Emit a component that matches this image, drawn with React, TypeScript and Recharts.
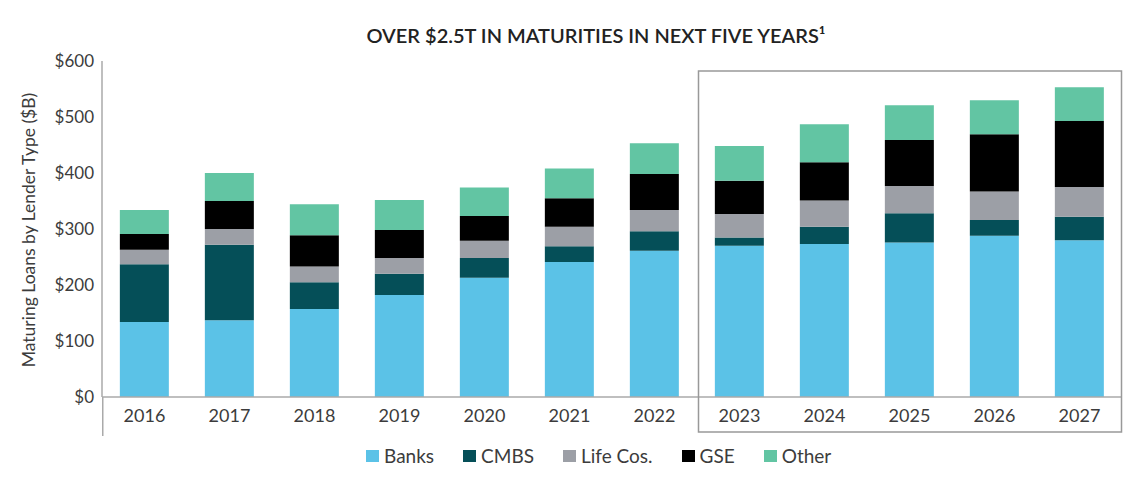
import * as React from "react";
import { BarChart, Bar, XAxis, YAxis } from "recharts";

// 만기 도래 대출 (단위: $B), 그림에서 읽은 값
const years = ["2016", "2017", "2018", "2019", "2020", "2021", "2022", "2023", "2024", "2025", "2026", "2027"];
const banks = [134, 137, 157, 182, 213, 241, 261, 270, 273, 276, 288, 280];
const cmbs = [103, 135, 48, 38, 35, 28, 35, 15, 31, 52, 28, 42];
const lifeCos = [26, 28, 28, 28, 31, 35, 38, 42, 47, 49, 51, 53];
const gse = [28, 50, 56, 50, 44, 51, 64, 59, 68, 82, 102, 118];
const other = [43, 50, 55, 54, 51, 53, 55, 62, 68, 62, 61, 60];
const yTicks = [0, 100, 200, 300, 400, 500, 600];

const series = [
  { key: "banks", name: "Banks", color: "#5BC2E7" },
  { key: "cmbs", name: "CMBS", color: "#054F58" },
  { key: "lifeCos", name: "Life Cos.", color: "#9C9FA6" },
  { key: "gse", name: "GSE", color: "#000000" },
  { key: "other", name: "Other", color: "#62C5A3" },
];

const data = years.map((year, i) => ({
  year,
  banks: banks[i],
  cmbs: cmbs[i],
  lifeCos: lifeCos[i],
  gse: gse[i],
  other: other[i],
}));

const FONT = "Lato, 'Open Sans', sans-serif";
const TEXT = "#3c3c3c";

// 범례는 플롯 높이에 영향을 주지 않도록 차트 밖에 따로 그립니다.
function LegendRow() {
  return (
    <div
      style={{
        position: "absolute",
        left: 366,
        top: 444,
        display: "flex",
        fontFamily: FONT,
        fontSize: 19,
        lineHeight: "24px",
        color: TEXT,
        whiteSpace: "nowrap",
      }}
    >
      {series.map((s) => (
        <div key={s.key} style={{ display: "flex", alignItems: "center", marginRight: 29 }}>
          <span style={{ width: 13, height: 12, background: s.color, display: "inline-block", marginRight: 5 }} />
          <span>{s.name}</span>
        </div>
      ))}
    </div>
  );
}

export default function App() {
  return (
    <div style={{ position: "absolute", left: 0, top: 0, width: 1144, height: 488, background: "#fff" }}>
      <BarChart
        width={1144}
        height={488}
        data={data}
        margin={{ top: 61, right: 22, bottom: 61, left: 42 }}
        barCategoryGap="21%"
      >
        <XAxis
          dataKey="year"
          height={30}
          axisLine={{ stroke: "#aaaaaa", strokeWidth: 1.5 }}
          tickLine={false}
          tickSize={0}
          tickMargin={12}
          tick={{ fill: TEXT, fontSize: 18, fontFamily: FONT }}
          interval={0}
        />
        <YAxis
          width={60}
          domain={[0, 600]}
          ticks={yTicks}
          tickFormatter={(v) => `$${v}`}
          axisLine={{ stroke: "#aaaaaa", strokeWidth: 1.5 }}
          tickLine={false}
          tickSize={0}
          tickMargin={8}
          tick={{ fill: TEXT, fontSize: 17, fontFamily: FONT }}
        />
        {series.map((s) => (
          <Bar key={s.key} dataKey={s.key} name={s.name} stackId="a" fill={s.color} isAnimationActive={false} />
        ))}
      </BarChart>
      <LegendRow />
      <svg width={1144} height={488} style={{ position: "absolute", left: 0, top: 0, pointerEvents: "none" }}>
        <text x={596} y={43} textAnchor="middle" fontFamily={FONT} fontWeight={600} fontSize={20} fill="#222">
          OVER $2.5T IN MATURITIES IN NEXT FIVE YEARS¹
        </text>
        <text
          x={0}
          y={0}
          transform="translate(35,230) rotate(-90)"
          textAnchor="middle"
          fontFamily={FONT}
          fontSize={17.5}
          fill={TEXT}
        >
          Maturing Loans by Lender Type ($B)
        </text>
        <line x1={102.75} y1={397} x2={102.75} y2={436} stroke="#aaaaaa" strokeWidth={1.5} />
        <rect x={698.5} y={71} width={423} height={361} fill="none" stroke="#999999" strokeWidth={1.5} />
      </svg>
    </div>
  );
}
